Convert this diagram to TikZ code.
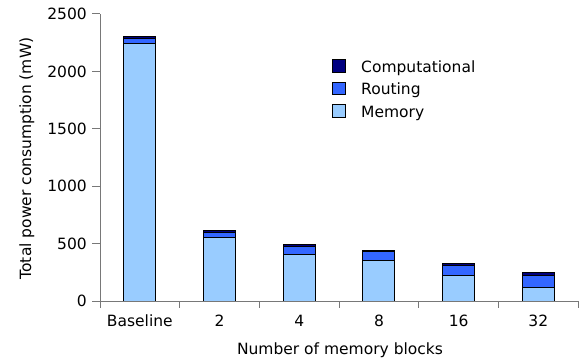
\documentclass[tikz,border=0pt]{standalone}
\usepackage{fontspec}
\setmainfont{DejaVu Sans}
\definecolor{compcol}{RGB}{0,0,128}
\definecolor{routcol}{RGB}{51,102,255}
\definecolor{memcol}{RGB}{153,204,255}
\definecolor{axiscol}{RGB}{120,120,120}
\begin{document}
\begin{tikzpicture}[x=1bp,y=-1bp,
  font=\fontsize{15.5bp}{18bp}\selectfont,
  segment/.style={draw=black,line width=1bp},
  axisline/.style={draw=axiscol,line width=1bp},
  keybox/.style={draw=black,line width=0.8bp,minimum width=12.5bp,minimum height=12.5bp,inner sep=0pt}]
\useasboundingbox (0,0) rectangle (585,362);

% stacked bars: memory, routing, computational (mW)
\foreach \i/\m/\r/\c in {0/2245/45/18, 1/549/52/16, 2/409/64/15, 3/354/73/16, 4/224/81/22, 5/119/99/27}{
  \pgfmathsetmacro\cx{100+79.7*(\i+0.5)}
  \pgfmathsetmacro\ya{301-0.1148*\m}
  \pgfmathsetmacro\yb{301-0.1148*(\m+\r)}
  \pgfmathsetmacro\yc{301-0.1148*(\m+\r+\c)}
  \draw[segment,fill=memcol] (\cx-16,301) rectangle (\cx+16,\ya);
  \draw[segment,fill=routcol] (\cx-16,\ya) rectangle (\cx+16,\yb);
  \draw[segment,fill=compcol] (\cx-16,\yb) rectangle (\cx+16,\yc);
}

% axes
\draw[axisline] (100,301) -- (578,301);
\draw[axisline] (100,301) -- (100,14);
\foreach \v in {0,500,1000,1500,2000,2500}{
  \pgfmathsetmacro\ty{301-0.1148*\v}
  \draw[axisline] (92,\ty) -- (100,\ty);
  \node[anchor=base east,inner sep=0pt] (ytick\v) at (87,\ty+5.7) {\v};
}
\foreach \k in {0,...,6}{
  \draw[axisline] (100+79.7*\k,301) -- (100+79.7*\k,308);
}
\foreach \i/\lab in {0/Baseline,1/2,2/4,3/8,4/16,5/32}{
  \node[anchor=base,inner sep=0pt] (xtick\i) at (100+79.7*\i+39.85,326.5) {\lab};
}

% axis titles
\node[anchor=base,inner sep=0pt] (xtitle) at (340,354) {Number of memory blocks};
\node[anchor=base,inner sep=0pt,rotate=90] (ytitle) at (31,158.5) {Total power consumption (mW)};

% legend
\node[keybox,fill=compcol] (kcomp) at (339,66) {};
\node[keybox,fill=routcol] (krout) at (339,88.5) {};
\node[keybox,fill=memcol] (kmem) at (339,111) {};
\node[anchor=base west,inner sep=0pt] (lcomp) at (361,72) {Computational};
\node[anchor=base west,inner sep=0pt] (lrout) at (361,94.5) {Routing};
\node[anchor=base west,inner sep=0pt] (lmem) at (361,117) {Memory};
\end{tikzpicture}
\end{document}
